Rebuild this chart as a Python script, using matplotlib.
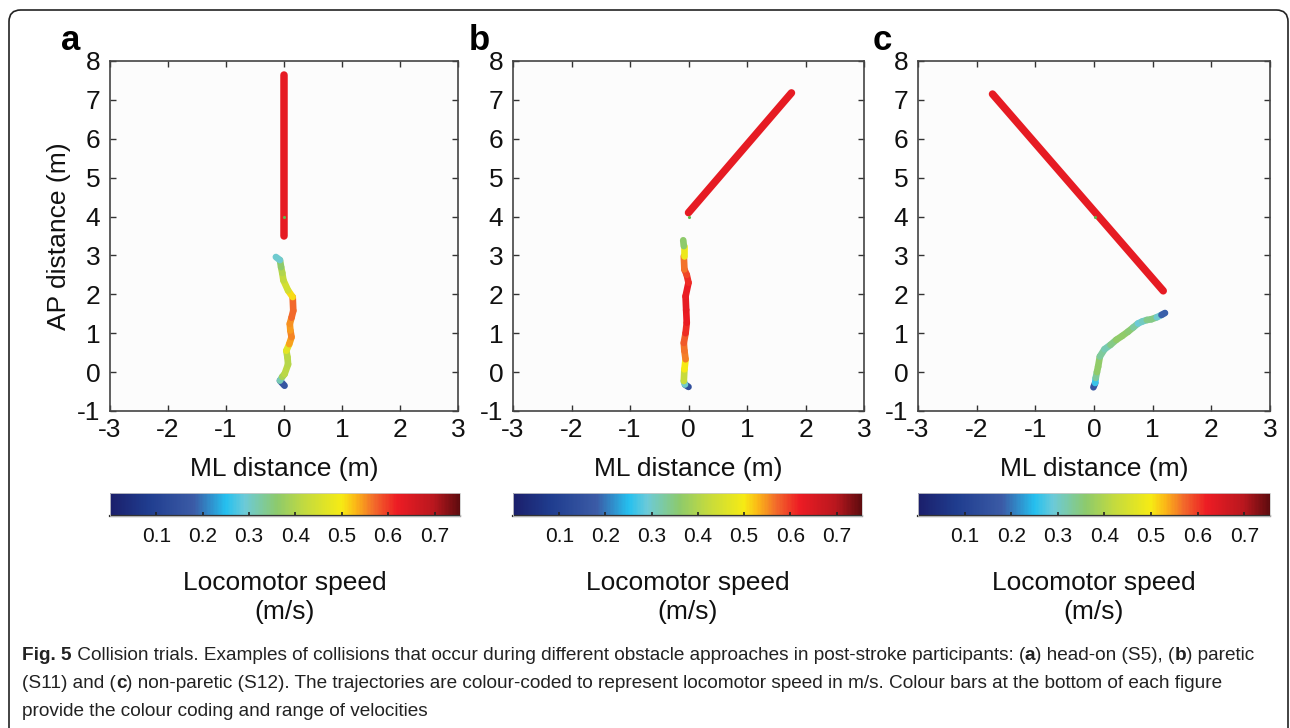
import numpy as np
import matplotlib
matplotlib.use("Agg")
import matplotlib.pyplot as plt
from matplotlib.collections import LineCollection
from matplotlib.colors import LinearSegmentedColormap, Normalize
from matplotlib.cm import ScalarMappable
from matplotlib.patches import FancyBboxPatch

plt.rcParams['font.family'] = ['Liberation Sans', 'DejaVu Sans']

# ---------------- data ----------------
panel_labels = ["a", "b", "c"]
x_ticks = [-3, -2, -1, 0, 1, 2, 3]
y_ticks = [-1, 0, 1, 2, 3, 4, 5, 6, 7, 8]
cbar_ticks = [0.1, 0.2, 0.3, 0.4, 0.5, 0.6, 0.7]
speed_min, speed_max = 0.0, 0.755

# panel a
a_upper_x = [0.0, 0.0]
a_upper_y = [3.5, 7.65]
a_upper_v = [0.63, 0.63]
a_lower_x = [0.01, -0.07, -0.03, 0.01, 0.07, 0.06, 0.04, 0.09, 0.13, 0.11, 0.10, 0.13, 0.16, 0.15, 0.07, -0.01, -0.03, -0.05, -0.07, -0.14]
a_lower_y = [-0.35, -0.22, -0.12, -0.05, 0.2, 0.38, 0.55, 0.72, 0.9, 1.07, 1.24, 1.4, 1.58, 1.93, 2.1, 2.36, 2.55, 2.7, 2.88, 2.96]
a_lower_v = [0.08, 0.25, 0.38, 0.41, 0.41, 0.40, 0.42, 0.52, 0.56, 0.55, 0.54, 0.56, 0.58, 0.56, 0.46, 0.43, 0.41, 0.39, 0.33, 0.26]

# panel b
b_upper_x = [0.0, 1.76]
b_upper_y = [4.1, 7.18]
b_upper_v = [0.63, 0.63]
b_lower_x = [0.0, -0.06, -0.08, -0.07, -0.05, -0.07, -0.08, -0.05, -0.03, -0.04, -0.05, 0.0, -0.03, -0.07, -0.08, -0.08, -0.09]
b_lower_y = [-0.38, -0.32, -0.23, 0.07, 0.33, 0.55, 0.75, 1.0, 1.27, 1.6, 1.95, 2.3, 2.5, 2.64, 2.98, 3.24, 3.39]
b_lower_v = [0.08, 0.2, 0.4, 0.45, 0.55, 0.57, 0.56, 0.6, 0.62, 0.63, 0.63, 0.62, 0.6, 0.58, 0.55, 0.42, 0.3]

# panel c
c_upper_x = [-1.73, 1.18]
c_upper_y = [7.15, 2.09]
c_upper_v = [0.63, 0.63]
c_lower_x = [-0.01, 0.02, 0.03, 0.05, 0.07, 0.10, 0.18, 0.28, 0.38, 0.48, 0.58, 0.67, 0.75, 0.82, 0.9, 0.98, 1.07, 1.15, 1.21]
c_lower_y = [-0.39, -0.28, -0.15, 0.0, 0.14, 0.4, 0.59, 0.7, 0.83, 0.93, 1.04, 1.15, 1.25, 1.3, 1.34, 1.36, 1.41, 1.47, 1.52]
c_lower_v = [0.1, 0.22, 0.3, 0.36, 0.37, 0.36, 0.3, 0.33, 0.36, 0.37, 0.36, 0.35, 0.3, 0.28, 0.33, 0.35, 0.34, 0.25, 0.12]

obstacle_x = [0.0, 0.0, 0.01]
obstacle_y = [4.0, 4.0, 4.0]

panels = [
    (a_upper_x, a_upper_y, a_upper_v, a_lower_x, a_lower_y, a_lower_v),
    (b_upper_x, b_upper_y, b_upper_v, b_lower_x, b_lower_y, b_lower_v),
    (c_upper_x, c_upper_y, c_upper_v, c_lower_x, c_lower_y, c_lower_v),
]

# ---------------- colormap ----------------
cmap_pts = [
    (0.00, "#1b1f6b"), (0.08, "#1f3c8e"), (0.18, "#3b5ba6"), (0.25, "#25c0ef"),
    (0.29, "#6ccad8"), (0.36, "#8dca6c"), (0.42, "#c3da3f"), (0.50, "#f6eb14"),
    (0.53, "#fbb817"), (0.57, "#f26a2b"), (0.62, "#ed1c24"), (0.70, "#b8171e"),
    (0.755, "#5e0b0e"),
]
cmap = LinearSegmentedColormap.from_list(
    "speed", [(v / speed_max, c) for v, c in cmap_pts])
norm = Normalize(speed_min, speed_max)

W, H = 1290, 728
fig = plt.figure(figsize=(W / 100, H / 100), dpi=100)
fig.patch.set_facecolor("white")

def px(x0, y0, x1, y1):
    return [x0 / W, 1 - y1 / H, (x1 - x0) / W, (y1 - y0) / H]

# border
border = FancyBboxPatch((9 / W, -0.05), (1288 - 9) / W, (H - 10) / H + 0.05,
                        boxstyle="round,pad=0,rounding_size=0.009",
                        transform=fig.transFigure, fill=False,
                        edgecolor="#222222", linewidth=1.2, mutation_aspect=W / H)
fig.patches.append(border)

ax_rects = [(110, 61, 458, 411), (513, 61, 864, 411), (918, 61, 1270, 411)]
cb_rects = [(110, 493, 460, 516), (513, 493, 862, 516), (918, 493, 1270, 516)]
letter_pos = [(71, 40), (479, 40), (882, 40)]

def add_path(ax, xs, ys, vs, lw):
    pts = np.column_stack([xs, ys])
    segs = np.stack([pts[:-1], pts[1:]], axis=1)
    vals = (np.asarray(vs[:-1]) + np.asarray(vs[1:])) / 2
    lc = LineCollection(segs, cmap=cmap, norm=norm, linewidths=lw,
                        capstyle="round", joinstyle="round", zorder=3)
    lc.set_array(vals)
    ax.add_collection(lc)

for i, (ux, uy, uv, lx, ly, lv) in enumerate(panels):
    ax = fig.add_axes(px(*ax_rects[i]))
    ax.set_facecolor("#fcfcfc")
    add_path(ax, ux, uy, uv, 5.4)
    add_path(ax, lx, ly, lv, 4.8)
    ax.scatter([obstacle_x[i]], [obstacle_y[i]], s=5, color="#5fb84a", zorder=4, linewidths=0)
    ax.set_xlim(-3, 3)
    ax.set_ylim(-1, 8)
    ax.set_xticks(x_ticks)
    ax.set_yticks(y_ticks)
    ax.set_xticklabels([str(t) for t in x_ticks])
    ax.set_yticklabels([str(t) for t in y_ticks])
    ax.tick_params(direction="in", length=4, width=1, top=True, right=True,
                   labelsize=19, colors="#333333", labelcolor="#111111")
    ax.tick_params(axis="x", pad=5)
    ax.tick_params(axis="y", pad=7)
    for sp in ax.spines.values():
        sp.set_color("#444444")
        sp.set_linewidth(1.2)
    ax.set_xlabel("ML distance (m)", fontsize=19, labelpad=11, color="#111111")
    if i == 0:
        ax.set_ylabel("AP distance (m)", fontsize=19, labelpad=4, color="#111111")
    lx_, ly_ = letter_pos[i]
    fig.text(lx_ / W, 1 - ly_ / H, panel_labels[i], fontsize=25, fontweight="bold",
             ha="center", va="center")

    cax = fig.add_axes(px(*cb_rects[i]))
    sm = ScalarMappable(norm=norm, cmap=cmap)
    cb = fig.colorbar(sm, cax=cax, orientation="horizontal", ticks=cbar_ticks)
    cb.ax.set_xticklabels([f"{t:.1f}" for t in cbar_ticks])
    cb.outline.set_edgecolor("#cccccc")
    cb.outline.set_linewidth(0.6)
    cax.axhline(0, color="#333333", lw=1.6, clip_on=False)
    cax.tick_params(direction="in", length=3, width=1.2, labelsize=15, pad=8,
                    colors="#222222", labelcolor="#111111")
    x0, _, x1, _ = cb_rects[i]
    cx = (x0 + x1) / 2
    fig.text(cx / W, 1 - 583 / H, "Locomotor speed", fontsize=19, ha="center",
             va="center", color="#111111")
    fig.text(cx / W, 1 - 612 / H, "(m/s)", fontsize=19, ha="center",
             va="center", color="#111111")

# ---------------- caption ----------------
cap_family = ['Liberation Sans Narrow', 'Liberation Sans', 'DejaVu Sans']
lines = [
    [("Fig. 5", "bold"), (" Collision trials. Examples of collisions that occur during different obstacle approaches in post-stroke participants: (", "normal"),
     ("a", "bold"), (") head-on (S5), (", "normal"), ("b", "bold"), (") paretic", "normal")],
    [("(S11) and (", "normal"), ("c", "bold"),
     (") non-paretic (S12). The trajectories are colour-coded to represent locomotor speed in m/s. Colour bars at the bottom of each figure", "normal")],
    [("provide the colour coding and range of velocities", "normal")],
]
line_y = [655, 683, 711]
renderer = fig.canvas.get_renderer()

def measure(size):
    total = 0
    for txt, wt in lines[0]:
        t = fig.text(0, 0, txt, fontsize=size, fontweight=wt, family=cap_family)
        total += t.get_window_extent(renderer).width
        t.remove()
    return total

base = 12.0
wid = measure(base)
cap_size = base * (1262 - 22) / wid

for ln, yy in zip(lines, line_y):
    x = 22.0
    for txt, wt in ln:
        t = fig.text(x / W, 1 - yy / H, txt, fontsize=cap_size, fontweight=wt,
                     family=cap_family, va="center", ha="left", color="#222222")
        x += t.get_window_extent(renderer).width

fig.savefig("out.png", dpi=100)
